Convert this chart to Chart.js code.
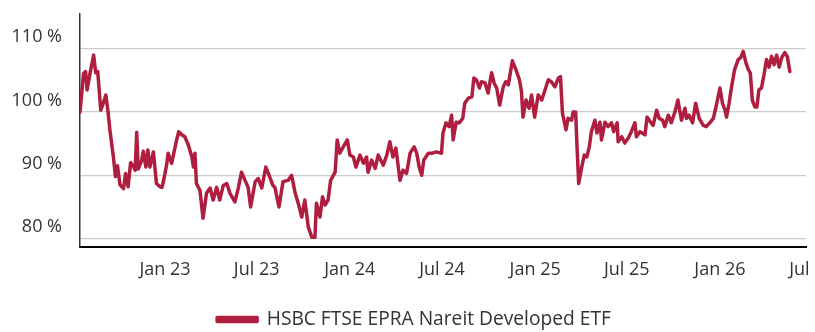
<!DOCTYPE html>
<html>
<head>
<meta charset="utf-8">
<script src="https://cdn.jsdelivr.net/npm/chart.js@4.4.1/dist/chart.umd.min.js"></script>
<style>
  html, body { margin: 0; padding: 0; background: #ffffff; }
  #wrap { width: 815px; height: 332px; position: relative; }
</style>
</head>
<body>
<div id="wrap"><canvas id="chart"></canvas></div>
<script>
// Fund performance, indexed to 100 on the first day (2022-07-17).
// x values are calendar days since that start date.
const seriesName = 'HSBC FTSE EPRA Nareit Developed ETF';

const dayOffsets = [
  0, 7, 11, 14, 20, 27, 31, 35, 41, 46, 51, 55, 59, 66, 70, 74, 79, 86, 90, 95,
  100, 105, 109, 112, 115, 122, 125, 130, 134, 138, 145, 151, 158, 162, 166, 171, 174, 181, 190, 195,
  201, 207, 214, 221, 224, 227, 230, 237, 243, 250, 257, 263, 270, 276, 283, 290, 296, 306, 313, 319,
  326, 332, 337, 346, 352, 359, 367, 372, 381, 385, 393, 401, 411, 418, 425, 431, 438, 444, 451, 458,
  464, 467, 474, 479, 484, 490, 495, 504, 508, 513, 520, 528, 533, 540, 545, 553, 560, 566, 569, 576,
  583, 589, 599, 606, 612, 618, 624, 632, 638, 645, 652, 660, 665, 670, 675, 679, 688, 696, 704, 714,
  717, 723, 729, 734, 737, 743, 749, 756, 760, 767, 774, 778, 783, 789, 793, 800, 806, 813, 818, 823,
  829, 836, 841, 846, 854, 861, 868, 872, 875, 881, 887, 892, 898, 905, 912, 919, 925, 931, 938, 945,
  949, 953, 960, 964, 971, 974, 979, 982, 985, 991, 996, 1001, 1006, 1010, 1017, 1021, 1027, 1030, 1037, 1043,
  1050, 1054, 1061, 1063, 1070, 1076, 1083, 1089, 1096, 1099, 1106, 1116, 1120, 1127, 1132, 1139, 1144, 1151, 1155, 1162,
  1168, 1175, 1181, 1188, 1195, 1198, 1203, 1210, 1216, 1223, 1231, 1237, 1244, 1251, 1257, 1264, 1269, 1274, 1277, 1282,
  1287, 1293, 1300, 1305, 1310, 1315, 1320, 1324, 1328, 1333, 1337, 1341, 1346, 1351, 1356, 1361, 1366, 1371, 1376, 1381,
  1386, 1392, 1397, 1402
];

const indexValues = [
  100.0, 106.1, 106.4, 103.5, 106.2, 109.0, 106.2, 106.4, 100.3, 101.4, 102.7, 100.3, 97.2, 92.9, 89.8, 91.5, 88.5, 87.9, 90.3, 88.2,
  92.0, 91.5, 90.8, 96.8, 91.0, 92.4, 93.8, 91.3, 94.0, 91.3, 93.7, 88.7, 88.2, 88.1, 89.5, 91.6, 93.5, 91.9, 95.3, 96.9,
  96.4, 96.1, 94.8, 92.9, 91.3, 93.5, 88.7, 87.6, 83.2, 87.2, 88.0, 86.1, 88.1, 86.1, 88.4, 88.7, 87.2, 85.8, 88.1, 90.5,
  89.2, 88.1, 85.0, 89.0, 89.5, 88.0, 91.3, 90.3, 88.4, 88.1, 85.0, 89.0, 89.2, 90.0, 87.2, 85.6, 83.4, 86.1, 81.8, 80.2,
  80.2, 85.6, 83.4, 86.6, 85.3, 86.1, 89.2, 90.5, 95.6, 93.5, 94.5, 95.6, 93.2, 92.9, 91.3, 93.2, 91.9, 92.9, 90.5, 92.4,
  91.1, 93.2, 91.6, 93.2, 95.3, 92.9, 94.3, 89.2, 90.8, 90.3, 93.5, 94.5, 93.5, 91.3, 90.0, 92.4, 93.5, 93.5, 93.7, 93.5,
  96.7, 98.3, 97.7, 99.5, 95.6, 98.4, 98.3, 99.0, 101.4, 102.2, 102.4, 105.4, 105.1, 103.8, 104.8, 104.6, 103.0, 106.2, 104.6, 103.8,
  101.1, 104.0, 104.8, 104.3, 108.1, 106.7, 105.1, 103.2, 99.2, 101.9, 100.6, 102.7, 99.2, 102.7, 101.9, 103.6, 105.1, 104.8, 104.0, 105.4,
  105.6, 99.8, 97.2, 99.0, 98.7, 100.0, 100.0, 94.0, 88.7, 91.3, 93.2, 92.9, 94.5, 96.9, 98.7, 96.7, 98.4, 95.6, 98.4, 97.7,
  98.3, 96.9, 98.3, 95.3, 96.1, 95.1, 95.9, 96.9, 98.3, 96.1, 96.9, 96.4, 99.2, 98.4, 97.9, 100.3, 99.0, 98.7, 97.7, 99.5,
  98.3, 100.0, 101.9, 98.7, 100.6, 99.0, 99.5, 98.3, 101.4, 99.0, 97.9, 97.7, 98.3, 99.0, 101.1, 103.8, 101.4, 100.3, 99.2, 101.4,
  104.0, 106.7, 108.3, 108.6, 109.6, 107.9, 106.7, 106.2, 101.9, 100.8, 100.8, 103.5, 103.8, 105.9, 108.3, 107.1, 108.8, 107.5, 109.0, 107.1,
  108.6, 109.4, 108.8, 106.4
];

// Horizontal axis labels and where they sit (days since start)
const xTickDays   = [168, 349, 533, 715, 899, 1080, 1264, 1421];
const xTickLabels = ['Jan 23', 'Jul 23', 'Jan 24', 'Jul 24', 'Jan 25', 'Jul 25', 'Jan 26', 'Jul'];

// Vertical axis labels
const yTickValues = [80, 90, 100, 110];

const lineColor = '#AF1D3F';
const textColor = '#333333';
const fontFamily = '"Open Sans", "Noto Sans", sans-serif';

const points = dayOffsets.map((d, i) => ({ x: d, y: indexValues[i] }));

// Nudge the legend a little to the right of the plot's centre line
const legendShift = {
  id: 'legendShift',
  afterLayout(chart) {
    const lg = chart.legend;
    if (lg) { lg.left += 11; lg.right += 11; }
  }
};

// Keep the plot edges exactly where the layout puts them
function noEdgePadding(scale) {
  scale.paddingTop = 0;
  scale.paddingBottom = 0;
  scale.paddingLeft = 0;
  scale.paddingRight = 0;
}

new Chart(document.getElementById('chart'), {
  type: 'line',
  data: {
    datasets: [{
      label: seriesName,
      data: points,
      borderColor: lineColor,
      backgroundColor: lineColor,
      borderWidth: 3.5,
      pointRadius: 0,
      tension: 0,
      borderJoinStyle: 'round',
      borderCapStyle: 'round'
    }]
  },
  plugins: [legendShift],
  options: {
    responsive: true,
    maintainAspectRatio: false,
    animation: false,
    layout: {
      autoPadding: false,
      padding: { top: 14, right: 9, bottom: -7, left: 0 }
    },
    plugins: {
      tooltip: { enabled: false },
      legend: {
        position: 'bottom',
        align: 'center',
        labels: {
          color: textColor,
          font: { family: fontFamily, size: 19.2 },
          boxWidth: 40,
          boxHeight: 4,
          padding: 10
        }
      }
    },
    scales: {
      x: {
        type: 'linear',
        min: 0,
        max: 1434,
        afterBuildTicks: (scale) => { scale.ticks = xTickDays.map(v => ({ value: v })); },
        afterFit: (scale) => { scale.height = 52.8; noEdgePadding(scale); },
        grid: { display: false, drawTicks: false },
        border: { display: true, color: '#000000', width: 2 },
        ticks: {
          autoSkip: false,
          maxRotation: 0,
          padding: 12,
          color: textColor,
          font: { family: fontFamily, size: 18 },
          callback: (value, index) => xTickLabels[index]
        }
      },
      y: {
        type: 'linear',
        min: 78.67,
        max: 115.5,
        afterBuildTicks: (scale) => { scale.ticks = yTickValues.map(v => ({ value: v })); },
        afterFit: (scale) => { scale.width = 80; noEdgePadding(scale); },
        grid: { color: '#cccccc', lineWidth: 1.2, drawTicks: false },
        border: { display: true, color: '#333333', width: 1.5 },
        ticks: {
          padding: 18,
          labelOffset: -11.5,
          color: textColor,
          font: { family: fontFamily, size: 18 },
          callback: (value) => value + ' %'
        }
      }
    }
  }
});
</script>
</body>
</html>
